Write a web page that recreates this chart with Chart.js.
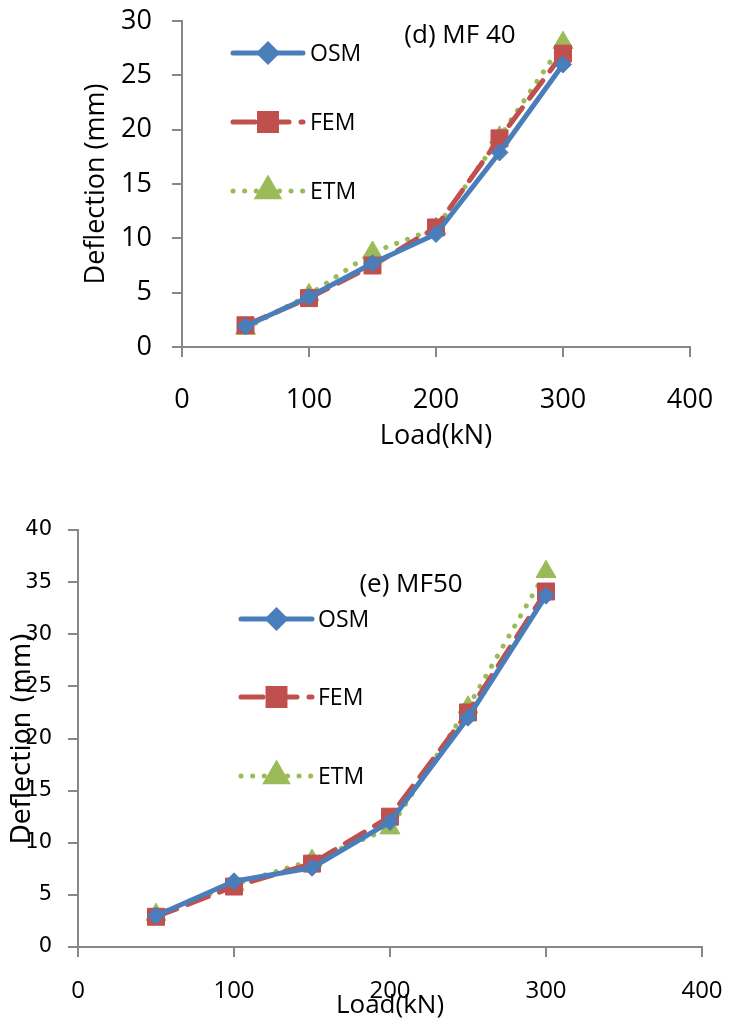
<!DOCTYPE html>
<html>
<head>
<meta charset="utf-8">
<script src="https://cdn.jsdelivr.net/npm/chart.js@4/dist/chart.umd.min.js"></script>
<style>
body { margin: 0; background: #fff; width: 732px; height: 1023px; overflow: hidden; position: relative; }
.box { position: absolute; left: 0; width: 732px; }
</style>
</head>
<body>
<div class="box" style="top:0;height:470px"><canvas id="chart-d"></canvas></div>
<div class="box" style="top:480px;height:543px"><canvas id="chart-e"></canvas></div>
<script>
// loads (kN) and deflections (mm)
const loads = [50, 100, 150, 200, 250, 300];
const xTicks = [0, 100, 200, 300, 400];

const osmD = [1.9, 4.6, 7.7, 10.4, 17.9, 26.0];
const femD = [2.0, 4.5, 7.5, 11.0, 19.2, 27.0];
const etmD = [1.7, 4.8, 8.7, 10.9, 19.3, 28.0];

const osmE = [3.0, 6.3, 7.6, 12.0, 22.0, 33.7];
const femE = [2.9, 5.8, 8.0, 12.5, 22.5, 34.1];
const etmE = [3.1, 6.0, 8.3, 11.4, 23.0, 36.0];

const seriesNames = ['OSM', 'FEM', 'ETM'];
const axisGray = '#878787';

// legend + panel caption drawn inside the plot, like the Excel original
const notesPlugin = {
    id: 'notes',
    afterDraw(chart, args, opts) {
        const ctx = chart.ctx;
        ctx.save();
        chart.data.datasets.forEach((ds, i) => {
            const y = opts.legendY[i];
            ctx.strokeStyle = ds.borderColor;
            ctx.lineWidth = ds.borderWidth;
            ctx.lineCap = 'round';
            ctx.setLineDash(ds.borderDash || []);
            ctx.beginPath();
            ctx.moveTo(opts.legendX[0], y);
            ctx.lineTo(opts.legendX[1], y);
            ctx.stroke();
            ctx.setLineDash([]);
            ctx.fillStyle = ds.pointBackgroundColor;
            ctx.strokeStyle = ds.pointBorderColor;
            Chart.helpers.drawPoint(ctx, {
                pointStyle: ds.pointStyle,
                radius: ds.pointRadius,
                borderWidth: ds.pointBorderWidth,
                rotation: 0
            }, (opts.legendX[0] + opts.legendX[1]) / 2, y);
            ctx.fillStyle = '#000';
            ctx.font = opts.font;
            ctx.textAlign = 'left';
            ctx.textBaseline = 'middle';
            ctx.fillText(ds.label, opts.textX, y + 1);
        });
        ctx.font = opts.captionFont;
        ctx.textAlign = 'center';
        ctx.fillText(opts.caption, opts.captionX, opts.captionY);
        ctx.restore();
    }
};

const makeChart = (id, cfg) => {
    const values = [cfg.osm, cfg.fem, cfg.etm];
    const styles = [
        { color: '#4a7ebb', pointStyle: 'rectRot', pointRadius: 8.5, dash: [] },
        { color: '#c0504d', pointStyle: 'rect', pointRadius: 12, dash: [22, 12] },
        { color: '#9bbb59', pointStyle: 'triangle', pointRadius: 11.5, dash: [0.1, 11.5] }
    ];
    return new Chart(document.getElementById(id), {
        type: 'line',
        data: {
            datasets: seriesNames.map((name, i) => ({
                label: name,
                data: loads.map((x, j) => ({ x: x, y: values[i][j] })),
                borderColor: styles[i].color,
                backgroundColor: styles[i].color,
                pointBackgroundColor: styles[i].color,
                pointBorderColor: styles[i].color,
                pointBorderWidth: 1,
                borderWidth: 5,
                borderDash: styles[i].dash,
                borderCapStyle: 'round',
                borderJoinStyle: 'round',
                pointStyle: styles[i].pointStyle,
                pointRadius: styles[i].pointRadius,
                tension: 0
            }))
        },
        options: {
            responsive: true,
            maintainAspectRatio: false,
            animation: false,
            layout: { padding: { top: cfg.padTop, right: cfg.padRight, left: 0, bottom: 0 } },
            plugins: {
                legend: { display: false },
                tooltip: { enabled: false },
                notes: cfg.notes
            },
            scales: {
                x: {
                    type: 'linear',
                    min: 0,
                    max: 400,
                    afterBuildTicks: (scale) => { scale.ticks = xTicks.map(v => ({ value: v })); },
                    afterFit: (scale) => {
                        scale.height = cfg.xHeight;
                        scale.paddingLeft = 0;
                        scale.paddingRight = 0;
                    },
                    border: { color: axisGray, width: 2 },
                    grid: { drawOnChartArea: false, color: axisGray, lineWidth: 2, tickLength: 10 },
                    ticks: { color: '#000', font: cfg.xFont, padding: cfg.xPad, maxRotation: 0 },
                    title: { display: true, text: 'Load(kN)', color: '#000', font: cfg.xTitleFont, padding: { top: 0, bottom: cfg.xTitlePad } }
                },
                y: {
                    type: 'linear',
                    min: 0,
                    max: cfg.yMax,
                    afterFit: (scale) => {
                        scale.width = cfg.yWidth;
                        scale.paddingTop = 0;
                        scale.paddingBottom = 0;
                    },
                    border: { color: axisGray, width: 2 },
                    grid: { drawOnChartArea: false, color: axisGray, lineWidth: 2, tickLength: 10 },
                    ticks: { stepSize: 5, color: '#000', font: cfg.yFont, padding: cfg.yPad },
                    title: { display: true, text: 'Deflection (mm)', color: '#000', font: cfg.yTitleFont, padding: { top: cfg.yTitlePad, bottom: 0 } }
                }
            }
        },
        plugins: [notesPlugin]
    });
};

makeChart('chart-d', {
    osm: osmD, fem: femD, etm: etmD, yMax: 30,
    padTop: 21, padRight: 42, xHeight: 123, yWidth: 182,
    xFont: { family: 'Open Sans', size: 27 }, xPad: 27,
    xTitleFont: { family: 'Open Sans', size: 27 }, xTitlePad: 17,
    yFont: { family: 'Open Sans', size: 27 }, yPad: 20,
    yTitleFont: { family: 'Open Sans', size: 27 }, yTitlePad: 80,
    notes: {
        legendX: [233, 303], legendY: [53, 122, 191], textX: 310,
        font: '23px "Open Sans"', captionFont: '26px "Open Sans"',
        caption: '(d) MF 40', captionX: 460, captionY: 36
    }
});

makeChart('chart-e', {
    osm: osmE, fem: femE, etm: etmE, yMax: 40,
    padTop: 50, padRight: 30, xHeight: 76, yWidth: 78,
    xFont: { family: 'Open Sans', size: 24 }, xPad: 20,
    xTitleFont: { family: 'Open Sans', size: 26 }, xTitlePad: 2,
    yFont: { family: 'DejaVu Sans', size: 21 }, yPad: 16,
    yTitleFont: { family: 'DejaVu Sans', size: 26 }, yTitlePad: 8,
    notes: {
        legendX: [241, 312], legendY: [139, 217, 296], textX: 318,
        font: '23px "Open Sans"', captionFont: '26px "Open Sans"',
        caption: '(e) MF50', captionX: 411, captionY: 105
    }
});
</script>
</body>
</html>
